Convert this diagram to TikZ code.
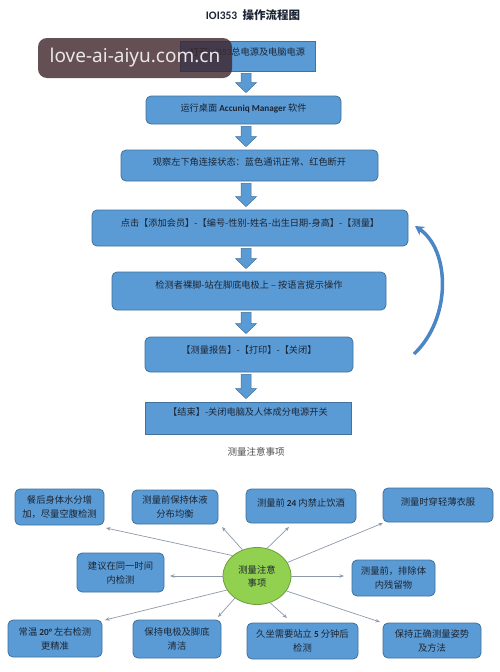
\documentclass[tikz,border=0pt]{standalone}
\usepackage{fontspec}
\setmainfont{Noto Sans CJK SC}
\newfontfamily\lat{Carlito}
\newfontfamily\wmfont{Noto Sans}
\usetikzlibrary{shapes.geometric,arrows.meta,calc}
\definecolor{boxblue}{HTML}{5B9BD5}
\definecolor{boxline}{HTML}{41719C}
\definecolor{curveblue}{HTML}{4A86C5}
\definecolor{txt}{HTML}{1C2533}
\definecolor{ellg}{HTML}{92D050}
\definecolor{elll}{HTML}{6E9E3A}
\definecolor{conncol}{HTML}{8E99A8}
\definecolor{wmbg}{RGB}{62,36,42}
\definecolor{wmtext}{RGB}{235,230,230}
\newcommand\blockarr[2]{%
  \filldraw[barrow]
    ($(axis |- #1.south)+(-5pt,-2pt)$) --
    ($(axis |- #1.south)+(5pt,-2pt)$) --
    ($(axis |- #2.north)+(5pt,13pt)$) --
    ($(axis |- #2.north)+(10.5pt,13pt)$) --
    ($(axis |- #2.north)+(0pt,3pt)$) --
    ($(axis |- #2.north)+(-10.5pt,13pt)$) --
    ($(axis |- #2.north)+(-5pt,13pt)$) -- cycle;}
\begin{document}
\begin{tikzpicture}[x=1pt,y=-1pt,
  sz/.style 2 args={minimum width=#1pt, minimum height=#2pt},
  up/.style={text depth=#1pt},
  flow/.style={draw=boxline, fill=boxblue, line width=0.8pt, text=txt,
    font=\fontsize{9.2}{12}\selectfont, inner sep=0pt},
  rflow/.style={flow, rounded corners=5pt},
  note/.style={draw=boxline, fill=boxblue, line width=0.8pt, rounded corners=5pt,
    text=txt, font=\fontsize{9.3}{14}\selectfont, align=center, inner sep=0pt},
  barrow/.style={fill=boxblue, draw=boxline, line width=0.5pt},
  conn/.style={draw=conncol, line width=0.7pt, -{Stealth[length=4.5pt,width=3.5pt]}},
]
\useasboundingbox (0,0) rectangle (500,672);
\fill[white] (0,0) rectangle (500,672);
\coordinate (axis) at (246,0);

% title
\node[font=\bfseries\fontsize{11.5}{12}\selectfont, text=txt] (title) at (253,15) {{\lat IOI353}\ \ 操作流程图};

% flow boxes
\node[flow, sz={135}{30}, up=8] (b1) at (247.5,56) {打开{\lat ioi353}总电源及电脑电源};
\node[rflow, sz={195}{28}, up=5] (b2) at (243.5,110) {运行桌面 {\lat\bfseries Accuniq Manager} 软件};
\node[rflow, sz={257}{31}, up=7] (b3) at (249.5,165.5) {观察左下角连接状态：蓝色通讯正常、红色断开};
\node[rflow, sz={316}{36}, up=10] (b4) at (250,228) {点击【添加会员】-【编号-性别-姓名-出生日期-身高】-【测量】};
\node[rflow, sz={274}{38}, up=12] (b5) at (249,291) {检测者裸脚-站在脚底电极上 – 按语言提示操作};
\node[rflow, sz={208}{35}, up=9] (b6) at (249,354.5) {【测量报告】-【打印】-【关闭】};
\node[flow, sz={206}{32}, up=12] (b7) at (248,418) {【结束】-关闭电脑及人体成分电源开关};

\blockarr{b1}{b2}
\blockarr{b2}{b3}
\blockarr{b3}{b4}
\blockarr{b4}{b5}
\blockarr{b5}{b6}
\blockarr{b6}{b7}

% loop-back curved arrow
\coordinate (cs) at (414,354);
\coordinate (ce) at (415,226);
\draw[curveblue, line width=3.5pt, -{Stealth[length=9pt,width=10pt]}]
  (cs) .. controls (452,318) and (450,250) .. (ce);

% watermark
\node[fill=wmbg, fill opacity=0.8, text opacity=1, rounded corners=9pt,
  sz={194}{40}, inner sep=0pt, text=wmtext,
  font=\wmfont\fontsize{19}{19}\selectfont] (wm) at (135,58) {love-ai-aiyu.com.cn};

% caption
\node[font=\fontsize{9.5}{10}\selectfont, text=black!70] (cap) at (256,452) {测量注意事项};

% notes
\node[note, sz={89}{36}] (nA) at (59.5,507) {餐后身体水分增\\加，尽量空腹检测};
\node[note, sz={86}{34}] (nB) at (175,507) {测量前保持体液\\分布均衡};
\node[note, sz={110}{34}, up=6] (nC) at (301,506) {测量前 {\lat\bfseries 24} 内禁止饮酒};
\node[note, sz={110}{34}, up=6] (nD) at (438,505) {测量时穿轻薄衣服};
\node[note, sz={87}{39}] (nE) at (120.5,572.5) {建议在同一时间\\内检测};
\node[note, sz={83}{36}] (nH) at (393.5,578) {测量前，排除体\\内残留物};
\node[note, sz={94}{37}] (nF) at (55,638.5) {常温 {\lat\bfseries 20°} 左右检测\\更精准};
\node[note, sz={88}{38}] (nG) at (177,639) {保持电极及脚底\\清洁};
\node[note, sz={111}{36}] (nI) at (302.5,641) {久坐需要站立 {\lat\bfseries 5} 分钟后\\检测};
\node[note, sz={98}{35}] (nJ) at (432,640.5) {保持正确测量姿势\\及方法};

% centre ellipse
\node[ellipse, draw=elll, fill=ellg, line width=0.8pt, sz={68}{57}, inner sep=0pt,
  align=center, text=txt, font=\fontsize{9.3}{13}\selectfont] (ell) at (257,576) {测量注意\\事项};

% arrow tips
\coordinate (tA) at (106,528);
\coordinate (tB) at (222,527);
\coordinate (tC) at (289,527);
\coordinate (tD) at (383,523);
\coordinate (tE) at (170,576);
\coordinate (tF) at (105,620);
\coordinate (tG) at (218,617);
\coordinate (tH) at (344,576);
\coordinate (tI) at (287,618);
\coordinate (tJ) at (380,622);

\draw[conn] (ell.140) -- (tA);
\draw[conn] (ell.119) -- (tB);
\draw[conn] (ell.70) -- (tC);
\draw[conn] (ell.24) -- (tD);
\draw[conn] (ell.180) -- (tE);
\draw[conn] (ell.205) -- (tF);
\draw[conn] (ell.225) -- (tG);
\draw[conn] (ell.0) -- (tH);
\draw[conn] (ell.296) -- (tI);
\draw[conn] (ell.333) -- (tJ);
\end{tikzpicture}
\end{document}
